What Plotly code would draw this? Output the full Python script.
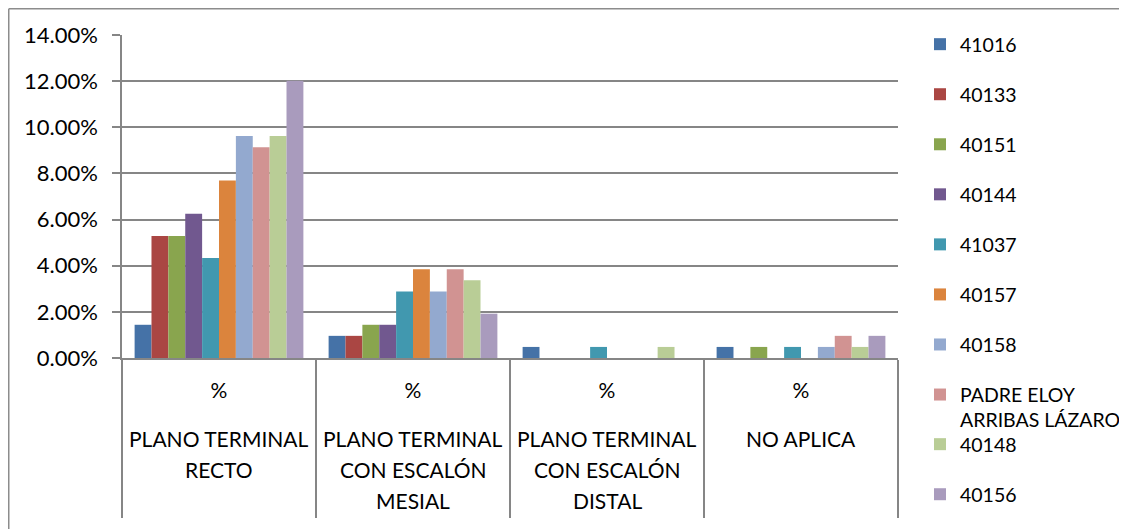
import plotly.graph_objects as go

categories = ["PLANO TERMINAL<br>RECTO", "PLANO TERMINAL<br>CON ESCALÓN<br>MESIAL",
              "PLANO TERMINAL<br>CON ESCALÓN<br>DISTAL", "NO APLICA"]
sub_label = "%"

series_names = ["41016", "40133", "40151", "40144", "41037", "40157", "40158",
                "PADRE ELOY<br>ARRIBAS LÁZARO", "40148", "40156"]
colors = ["#4572A7", "#AA4643", "#89A54E", "#71588F", "#4198AF", "#DB843D",
          "#93A9CF", "#D19392", "#B9CD96", "#A99BBD"]

v_41016 = [0.0144, 0.0096, 0.0048, 0.0048]
v_40133 = [0.0529, 0.0096, 0.0, 0.0]
v_40151 = [0.0529, 0.0144, 0.0, 0.0048]
v_40144 = [0.0625, 0.0144, 0.0, 0.0]
v_41037 = [0.0433, 0.0288, 0.0048, 0.0048]
v_40157 = [0.0769, 0.0385, 0.0, 0.0]
v_40158 = [0.0962, 0.0288, 0.0, 0.0048]
v_padre = [0.0913, 0.0385, 0.0, 0.0096]
v_40148 = [0.0962, 0.0337, 0.0048, 0.0048]
v_40156 = [0.1202, 0.0192, 0.0, 0.0096]

all_values = [v_41016, v_40133, v_40151, v_40144, v_41037, v_40157, v_40158,
              v_padre, v_40148, v_40156]

FONT = "Lato"
OFF = 8  # page body margin offset
W, H = 1127 - OFF, 529 - OFF
# target screen coords of plot area
PL, PR, PT, PB = 122, 898, 35, 358
L, R, T, B = PL - OFF, W - (PR - OFF), PT - OFF, H - (PB - OFF)
pw, ph = W - L - R, H - T - B


def px_x(x):  # screen x -> paper
    return (x - OFF - L) / pw


def px_y(y):  # screen y -> paper
    return (H - B - (y - OFF)) / ph


fig = go.Figure()
for i, (name, vals, col) in enumerate(zip(series_names, all_values, colors)):
    fig.add_trace(go.Bar(
        x=categories, y=vals, name=name,
        marker=dict(color=col, line=dict(width=0)),
        legendgroup=f"g{i}",
        legend="legend" if i < 8 else "legend2",
    ))

leg_common = dict(
    font=dict(family=FONT, size=19.5, color="#000000"),
    traceorder="grouped", tracegroupgap=21.7,
    bgcolor="rgba(0,0,0,0)", borderwidth=0,
    xanchor="left", yanchor="top", valign="top",
    itemclick=False, itemdoubleclick=False,
    maxheight=500,
)

# category name annotations, one per line
annotations = []
for i, cat in enumerate(categories):
    for j, line in enumerate(cat.split("<br>")):
        annotations.append(dict(
            x=cat, xref="x", y=px_y(438 + 31.3 * j), yref="paper",
            text=line, showarrow=False, xanchor="center", yanchor="middle",
            font=dict(family=FONT, size=21, color="#000000"),
        ))

fig.update_layout(
    width=W, height=H,
    margin=dict(l=L, r=R, t=T, b=B, autoexpand=False),
    paper_bgcolor="white", plot_bgcolor="white",
    barmode="group", bargap=0.13, bargroupgap=0.0,
    font=dict(family=FONT, size=20, color="#000000"),
    showlegend=True,
    legend=dict(x=px_x(920), y=px_y(25), **leg_common),
    legend2=dict(x=px_x(920), y=px_y(425), **leg_common),
    xaxis=dict(
        type="category",
        tickvals=categories, ticktext=[sub_label] * len(categories),
        tickson="boundaries",
        showline=True, linecolor="#868686", linewidth=1.5,
        showgrid=False,
        ticks="outside", ticklen=158, tickcolor="#868686", tickwidth=1.5,
        ticklabelstandoff=13,
        tickfont=dict(family=FONT, size=21, color="#000000"),
    ),
    yaxis=dict(
        range=[0, 0.14], dtick=0.02, tickformat=".2%",
        showline=True, linecolor="#868686", linewidth=1.5,
        showgrid=True, gridcolor="#868686", gridwidth=1.5,
        ticks="outside", ticklen=8, tickcolor="#868686", tickwidth=1.5,
        ticklabelstandoff=10,
        tickfont=dict(family=FONT, size=22, color="#000000"),
        zeroline=False,
    ),
    annotations=annotations,
    shapes=[
        dict(type="line", xref="paper", yref="paper",
             x0=px_x(8.75), x1=px_x(8.75), y0=px_y(8.75), y1=px_y(540),
             line=dict(color="#8c8c8c", width=1.5)),
        dict(type="line", xref="paper", yref="paper",
             x0=px_x(8.75), x1=px_x(1140), y0=px_y(8.75), y1=px_y(8.75),
             line=dict(color="#8c8c8c", width=1.5)),
    ],
)

fig.write_html("out.html")
